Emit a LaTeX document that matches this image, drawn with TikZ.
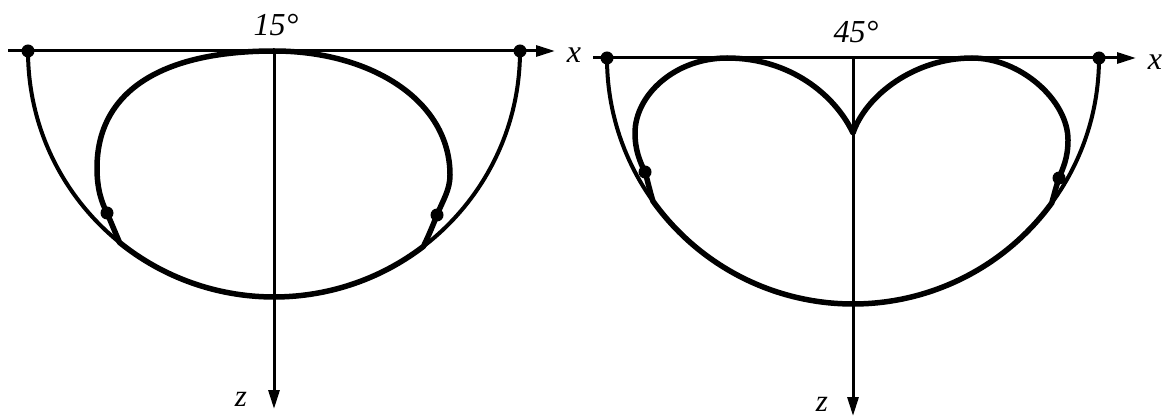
\documentclass[tikz,border=0pt]{standalone}
\usepackage{fontspec}
\setmainfont{Liberation Serif}
\usetikzlibrary{arrows.meta,calc}
\begin{document}
\begin{tikzpicture}[x=1pt,y=-1pt,
  axis/.style={line width=3pt,-{Triangle[length=19pt,width=11pt]}},
  outer/.style={line width=4pt},
  inner/.style={line width=5.5pt,line join=round},
  dot/.style={circle,fill=black,inner sep=0pt,minimum size=13pt},
  lbl/.style={font=\fontsize{32}{34}\selectfont\itshape,inner sep=0pt},
  zlbl/.style={font=\fontsize{31}{33}\selectfont\itshape,inner sep=0pt}]
\useasboundingbox (0,0) rectangle (1164,419);
% ---------- left figure (15 degrees)
\coordinate (O1) at (274,51);
\coordinate (xs1) at (8,51);
\coordinate (xe1) at (555,51);
\coordinate (ze1) at (274,409);
\draw[axis] (xs1) -- (xe1);
\draw[axis] (O1) -- (ze1);
\node[dot] (a1) at (28,51) {};
\node[dot] (b1) at (520,51) {};
\draw[outer] (a1.center) arc[start angle=180,end angle=0,radius=246];
\draw[inner] (274,51) .. controls (159,51) and (97,93) .. (97,168)
  .. controls (97,190) and (102,203) .. (107,213)
  .. controls (111,222) and (115,232) .. ($(O1)+(128.9:246)$)
  arc[start angle=128.9,end angle=52.6,radius=246]
  .. controls (429,235) and (433,225) .. (437,215)
  .. controls (443,200) and (450,190) .. (450,175)
  .. controls (450,100) and (370,51) .. cycle;
\node[dot] (c1) at (107,213) {};
\node[dot] (e1) at (437,215) {};
\node[lbl,anchor=base] (t1) at (276,36) {15°};
\node[lbl,anchor=base] (x1) at (574,63) {x};
\node[zlbl,anchor=base] (z1) at (241,406) {z};
% ---------- right figure (45 degrees)
\coordinate (O2) at (853,58);
\coordinate (xs2) at (593,58);
\coordinate (xe2) at (1136,58);
\coordinate (ze2) at (853,416);
\draw[axis] (xs2) -- (xe2);
\draw[axis] (O2) -- (ze2);
\node[dot] (a2) at (607,58) {};
\node[dot] (b2) at (1099,58) {};
\draw[outer] (a2.center) arc[start angle=180,end angle=0,radius=246];
\draw[inner] (853,133) .. controls (835,95) and (790,58) .. (727,58)
  .. controls (675,58) and (635,95) .. (635,133)
  .. controls (635,150) and (640,162) .. (645,172)
  .. controls (648,182) and (650,192) .. ($(O2)+(144.4:246)$)
  arc[start angle=144.4,end angle=36.1,radius=246]
  .. controls (1054,195) and (1056,187) .. (1059,178)
  .. controls (1063,168) and (1068,158) .. (1068,140)
  .. controls (1068,100) and (1020,58) .. (972,58)
  .. controls (915,58) and (866,95) .. cycle;
\node[dot] (c2) at (645,172) {};
\node[dot] (e2) at (1059,178) {};
\node[lbl,anchor=base] (t2) at (856,43) {45°};
\node[lbl,anchor=base] (x2) at (1155,70) {x};
\node[zlbl,anchor=base] (z2) at (822,411) {z};
\end{tikzpicture}
\end{document}
